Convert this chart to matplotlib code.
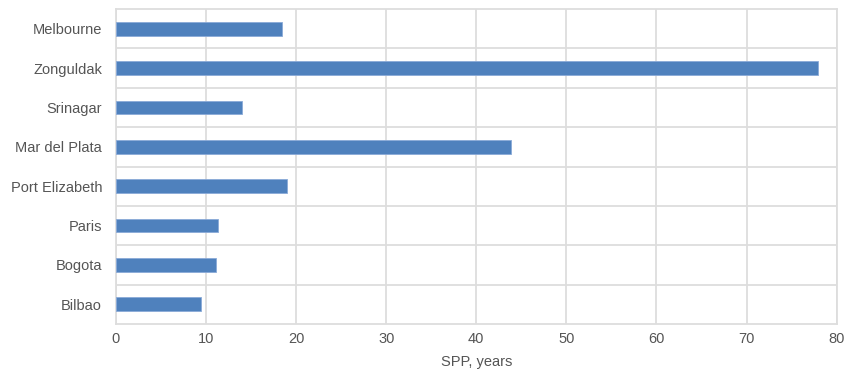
import matplotlib.pyplot as plt
import seaborn as sns
import numpy as np

cities = ["Melbourne", "Zonguldak", "Srinagar", "Mar del Plata",
          "Port Elizabeth", "Paris", "Bogota", "Bilbao"]
spp_years = [18.4, 77.9, 14.0, 43.9, 19.0, 11.3, 11.1, 9.4]

sns.set_style("whitegrid")
plt.rcParams['font.family'] = ['Liberation Sans', 'DejaVu Sans']

fig, ax = plt.subplots(figsize=(8.46, 3.78), dpi=100)
fig.subplots_adjust(left=0.137, right=0.989, top=0.976, bottom=0.143)

# bars listed top to bottom
ypos = np.arange(len(cities))[::-1]
ax.barh(ypos, spp_years, height=0.35, color="#4f81bd",
        edgecolor="#8aaad8", linewidth=0.6, zorder=3)

ax.set_ylim(-0.5, len(cities) - 0.5)
ax.set_xlim(0, 80)
ax.set_yticks(ypos)
ax.set_yticklabels(cities)
# horizontal grid lines sit between the bars
ax.set_yticks(np.arange(len(cities) - 1) + 0.5, minor=True)
ax.yaxis.grid(False, which="major")
ax.yaxis.grid(True, which="minor", color="#dddddd", linewidth=1.3)
ax.xaxis.grid(True, color="#dddddd", linewidth=1.3)
ax.tick_params(axis="both", which="both", length=0, labelsize=10.5,
               labelcolor="#555555")
ax.tick_params(axis="x", pad=6)
ax.tick_params(axis="y", pad=10)

for side in ax.spines.values():
    side.set_color("#dddddd")
    side.set_linewidth(1.3)

ax.set_xlabel("SPP, years", fontsize=10.5, color="#555555", labelpad=6)

fig.savefig("out.png", dpi=100)
